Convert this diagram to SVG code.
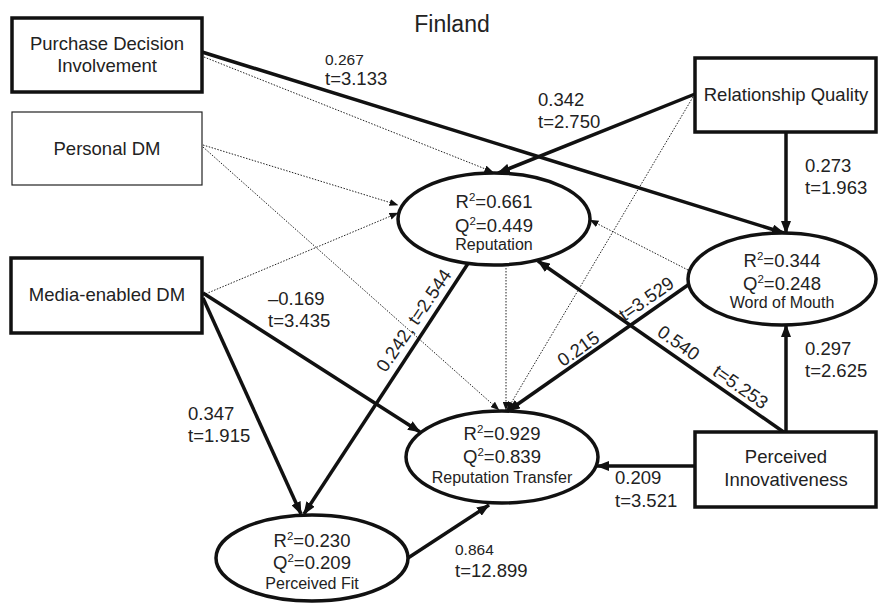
<svg xmlns="http://www.w3.org/2000/svg" width="878" height="603" viewBox="0 0 878 603">
  <style>
    .box { fill: #fff; stroke: #111; stroke-width: 3.5; }
    .box-thin { fill: #fff; stroke: #222; stroke-width: 1.2; }
    .lat { fill: #fff; stroke: #111; stroke-width: 3.5; }
    .lbl { font-family: "Liberation Sans", Arial, sans-serif; font-size: 18.5px; fill: #222; text-anchor: middle; }
    .stat { font-family: "Liberation Sans", Arial, sans-serif; font-size: 18.5px; fill: #222; text-anchor: middle; }
    .name { font-family: "Liberation Sans", Arial, sans-serif; font-size: 16px; fill: #222; text-anchor: middle; }
    .coef { font-family: "Liberation Sans", Arial, sans-serif; font-size: 18.5px; fill: #222; }
    .coef-s { font-size: 15.5px; }
    .sup { font-size: 11.5px; }
    .title { font-family: "Liberation Sans", Arial, sans-serif; font-size: 23px; fill: #222; text-anchor: middle; }
    .sig { fill: none; stroke: #111; stroke-width: 3.5; marker-end: url(#head); }
    .ns { fill: none; stroke: #222; stroke-width: 1; stroke-dasharray: 1.5 1.5; marker-end: url(#head-s); }
  </style>
  <defs>
    <marker id="head" markerUnits="userSpaceOnUse" viewBox="0 0 13 10" markerWidth="13" markerHeight="10" refX="12" refY="5" orient="auto">
      <path d="M0,0 L13,5 L0,10 z" fill="#111"/>
    </marker>
    <marker id="head-s" markerUnits="userSpaceOnUse" viewBox="0 0 9 7" markerWidth="9" markerHeight="7" refX="8.5" refY="3.5" orient="auto">
      <path d="M0,0 L9,3.5 L0,7 z" fill="#111"/>
    </marker>
  </defs>

  <rect width="878" height="603" fill="#fff"/>

  <text class="title" x="452" y="32">Finland</text>

  <!-- paths between constructs -->
  <g id="connectors">
    <!-- non-significant paths (dotted) -->
    <path class="ns" d="M204,57 L493,172"/>
    <path class="ns" d="M203,145 L398,205"/>
    <path class="ns" d="M203,147 L499,410"/>
    <path class="ns" d="M203,295 L398,213"/>
    <path class="ns" d="M506,268 L506,410"/>
    <path class="ns" d="M693,97 L507,410"/>
    <path class="ns" d="M688,270 L590,220"/>

    <!-- significant paths -->
    <path class="sig" d="M202,52 L784,233"/>
    <path class="sig" d="M203,293 L420,432"/>
    <path class="sig" d="M203,298 L301,514"/>
    <path class="sig" d="M469,262 L304,514"/>
    <path class="sig" d="M695,94 L498,173"/>
    <path class="sig" d="M786,132 L786,233"/>
    <path class="sig" d="M688,285 L508,411"/>
    <path class="sig" d="M785,433 L538,261"/>
    <path class="sig" d="M786,432 L786,325"/>
    <path class="sig" d="M695,466 L597,466"/>
    <path class="sig" d="M408,558 L489,505"/>

    <!-- path coefficients -->
    <text class="coef" x="325" y="65"><tspan class="coef-s">0.267</tspan><tspan x="325" y="85">t=3.133</tspan></text>
    <text class="coef" x="538" y="106">0.342<tspan x="538" y="128">t=2.750</tspan></text>
    <text class="coef" x="805" y="172">0.273<tspan x="805" y="194">t=1.963</tspan></text>
    <text class="coef" x="268" y="305">–0.169<tspan x="268" y="327">t=3.435</tspan></text>
    <text class="coef" x="188" y="420">0.347<tspan x="188" y="442">t=1.915</tspan></text>
    <text class="coef" x="805" y="355">0.297<tspan x="805" y="377">t=2.625</tspan></text>
    <text class="coef" x="615" y="484">0.209<tspan x="615" y="507">t=3.521</tspan></text>
    <text class="coef" x="455" y="555"><tspan class="coef-s">0.864</tspan><tspan x="455" y="577">t=12.899</tspan></text>
    <text class="coef" text-anchor="middle" transform="translate(419,324) rotate(-56)">0.242, t=2.544</text>
    <text class="coef" text-anchor="middle" transform="translate(582,354) rotate(-35)">0.215</text>
    <text class="coef" text-anchor="middle" transform="translate(650,304) rotate(-35)">t=3.529</text>
    <text class="coef" text-anchor="middle" transform="translate(675,348) rotate(35)">0.540</text>
    <text class="coef" text-anchor="middle" transform="translate(737,392) rotate(35)">t=5.253</text>
  </g>

  <!-- exogenous constructs -->
  <g id="pdi">
    <rect class="box" x="12" y="18" width="190" height="74"/>
    <text class="lbl" x="107" y="50">Purchase Decision</text>
    <text class="lbl" x="107" y="72">Involvement</text>
  </g>
  <g id="personal-dm">
    <rect class="box-thin" x="12" y="112" width="190" height="73"/>
    <text class="lbl" x="107" y="155">Personal DM</text>
  </g>
  <g id="media-dm">
    <rect class="box" x="11" y="258" width="191" height="75"/>
    <text class="lbl" x="107" y="301">Media-enabled DM</text>
  </g>
  <g id="relationship-quality">
    <rect class="box" x="695" y="58" width="181" height="74"/>
    <text class="lbl" x="786" y="101">Relationship Quality</text>
  </g>
  <g id="perceived-innovativeness">
    <rect class="box" x="695" y="432" width="181" height="75"/>
    <text class="lbl" x="786" y="463">Perceived</text>
    <text class="lbl" x="786" y="486">Innovativeness</text>
  </g>

  <!-- endogenous constructs -->
  <g id="reputation">
    <ellipse class="lat" cx="494" cy="219" rx="96" ry="46"/>
    <text class="stat" x="494" y="208">R<tspan class="sup" dy="-7">2</tspan><tspan dy="7">=0.661</tspan></text>
    <text class="stat" x="494" y="232">Q<tspan class="sup" dy="-7">2</tspan><tspan dy="7">=0.449</tspan></text>
    <text class="name" x="494" y="250">Reputation</text>
  </g>
  <g id="word-of-mouth">
    <ellipse class="lat" cx="782" cy="279" rx="94" ry="46"/>
    <text class="stat" x="782" y="267">R<tspan class="sup" dy="-7">2</tspan><tspan dy="7">=0.344</tspan></text>
    <text class="stat" x="782" y="290">Q<tspan class="sup" dy="-7">2</tspan><tspan dy="7">=0.248</tspan></text>
    <text class="name" x="782" y="308">Word of Mouth</text>
  </g>
  <g id="reputation-transfer">
    <ellipse class="lat" cx="502" cy="457" rx="96" ry="46"/>
    <text class="stat" x="502" y="440">R<tspan class="sup" dy="-7">2</tspan><tspan dy="7">=0.929</tspan></text>
    <text class="stat" x="502" y="463">Q<tspan class="sup" dy="-7">2</tspan><tspan dy="7">=0.839</tspan></text>
    <text class="name" x="502" y="483">Reputation Transfer</text>
  </g>
  <g id="perceived-fit">
    <ellipse class="lat" cx="312" cy="558" rx="96" ry="43"/>
    <text class="stat" x="312" y="547">R<tspan class="sup" dy="-7">2</tspan><tspan dy="7">=0.230</tspan></text>
    <text class="stat" x="312" y="569">Q<tspan class="sup" dy="-7">2</tspan><tspan dy="7">=0.209</tspan></text>
    <text class="name" x="312" y="589">Perceived Fit</text>
  </g>
</svg>
